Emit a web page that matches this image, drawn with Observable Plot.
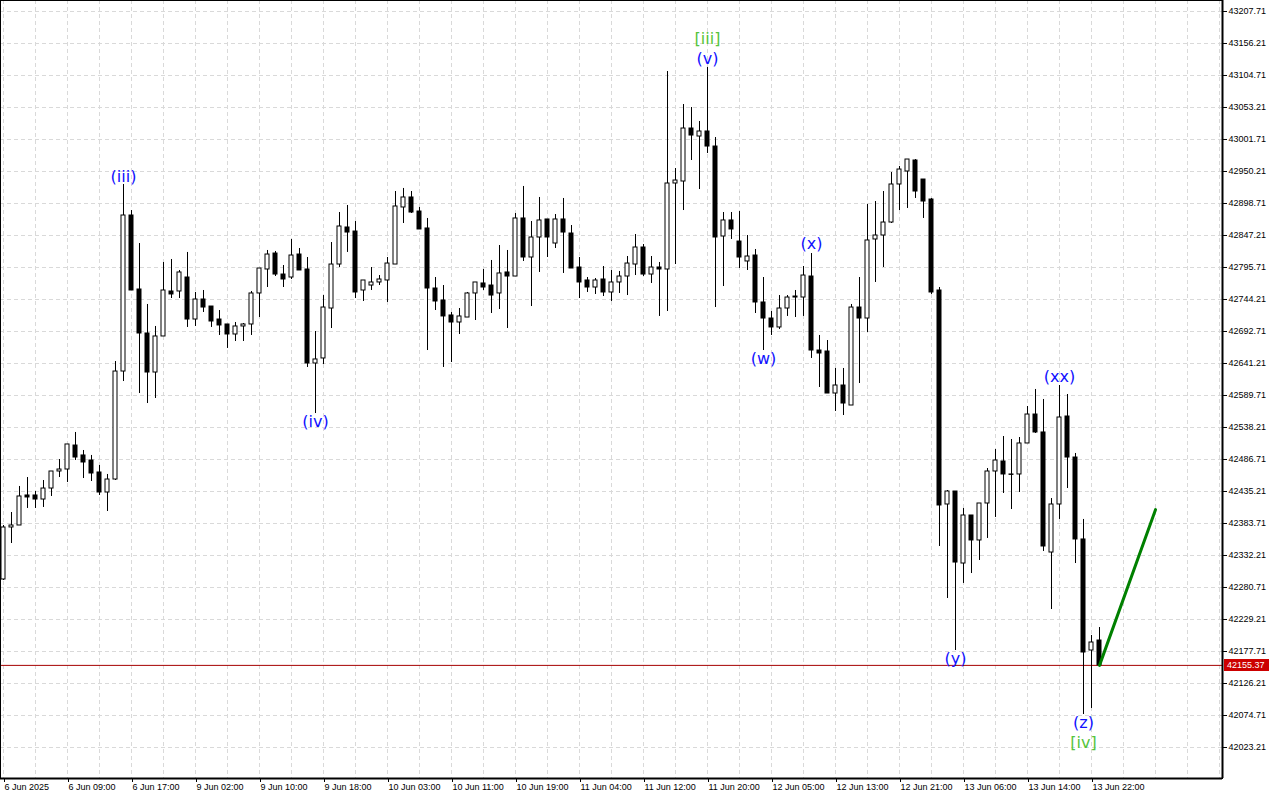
<!DOCTYPE html>
<html><head><meta charset="utf-8">
<script src="https://cdn.jsdelivr.net/npm/d3@7"></script>
<script src="https://cdn.jsdelivr.net/npm/@observablehq/plot@0.6"></script>
<style>body{margin:0;background:#fff;}</style>
</head><body><div id="chart"></div>
<script>
const open = [
42293.6,42377.3,42380.5,42428.8,42428.8,42422.3,42440.0,42467.4,42470.6,42509.2,
42493.2,42485.1,42465.8,42433.6,42454.5,42628.3,42879.4,42760.3,42689.5,42626.7,
42684.7,42757.1,42757.1,42779.6,42712.0,42744.2,42732.9,42712.0,42704.0,42687.9,
42700.8,42704.0,42753.9,42792.5,42818.2,42784.4,42779.6,42816.6,42792.5,42641.2,
42649.3,42729.7,42800.5,42860.1,42853.6,42758.7,42766.7,42771.6,42774.8,42800.5,
42892.3,42908.4,42885.8,42858.5,42761.9,42742.6,42718.5,42707.2,42715.2,42753.9,
42770.0,42766.7,42753.9,42787.7,42781.2,42874.6,42811.8,42844.0,42873.0,42834.3,
42873.0,42850.4,42795.7,42774.8,42763.5,42776.4,42755.5,42771.6,42781.2,42800.5,
42827.9,42784.4,42795.7,42792.5,42930.9,42934.1,43019.4,43006.5,43014.6,42990.4,
42845.6,42871.4,42837.5,42805.4,42815.0,42739.4,42713.6,42699.2,42729.7,42749.0,
42747.4,42781.2,42662.1,42660.5,42592.9,42605.8,42573.6,42731.3,42713.6,42840.8,
42847.2,42868.1,42929.3,42950.2,42967.9,42937.3,42905.1,42758.7,42414.3,42435.2,
42319.3,42396.6,42356.4,42415.9,42467.4,42483.5,42462.6,42462.6,42512.5,42559.1,
42530.2,42337.0,42414.3,42555.9,42489.9,42358.0,42179.3,42195.4
];
const high = [
42380.5,42401.4,42443.3,42457.7,42435.2,42452.9,42467.4,42486.7,42510.9,42530.2,
42501.2,42493.2,42477.1,42462.6,42644.4,42929.3,42887.4,42834.3,42736.2,42700.8,
42803.8,42808.6,42790.9,42819.9,42755.5,42758.7,42732.9,42726.5,42704.0,42707.2,
42705.6,42757.1,42794.1,42823.1,42821.5,42798.9,42840.8,42826.3,42811.8,42692.7,
42750.6,42835.9,42884.2,42895.5,42869.7,42774.8,42795.7,42782.8,42811.8,42918.0,
42922.9,42918.0,42892.3,42874.6,42779.6,42766.7,42723.3,42729.7,42755.5,42771.6,
42792.5,42807.0,42831.1,42823.1,42882.6,42926.1,42869.7,42908.4,42873.0,42881.0,
42906.8,42863.3,42811.8,42779.6,42778.0,42797.3,42790.9,42789.3,42813.4,42848.8,
42832.7,42813.4,42803.8,43111.1,42955.0,43058.0,43053.2,43030.7,43117.6,43004.9,
42884.2,42884.2,42885.8,42847.2,42824.7,42779.6,42724.9,42750.6,42750.6,42758.7,
42797.3,42818.2,42686.3,42678.2,42633.2,42633.2,42736.2,42779.6,42897.1,42901.9,
42918.0,42948.6,42958.3,42969.5,42969.5,42937.3,42906.8,42763.5,42436.8,42435.2,
42407.9,42396.6,42415.9,42472.2,42502.8,42523.7,42518.9,42522.1,42572.0,42599.4,
42583.3,42423.9,42605.8,42591.3,42496.4,42390.2,42203.5,42216.3
];
const low = [
42292.0,42351.5,42380.5,42407.9,42407.9,42409.5,42427.2,42457.7,42449.7,42485.1,
42456.1,42451.3,42428.8,42403.0,42452.9,42612.2,42758.7,42592.9,42576.8,42584.9,
42684.7,42745.8,42745.8,42699.2,42700.8,42723.3,42699.2,42686.3,42665.4,42676.6,
42676.6,42686.3,42715.2,42763.5,42781.2,42763.5,42776.4,42790.9,42634.8,42560.7,
42639.6,42697.5,42795.7,42819.9,42745.8,42741.0,42758.7,42766.7,42739.4,42800.5,
42866.5,42882.6,42856.9,42662.1,42726.5,42634.8,42642.8,42687.9,42715.2,42710.4,
42758.7,42721.7,42728.1,42697.5,42781.2,42805.4,42732.9,42787.7,42811.8,42826.3,
42786.1,42794.1,42745.8,42755.5,42752.3,42749.0,42741.0,42753.9,42750.6,42782.8,
42781.2,42770.0,42716.9,42724.9,42800.5,42887.4,42967.9,42921.2,42979.2,42731.3,
42765.1,42840.8,42794.1,42790.9,42721.7,42662.1,42686.3,42695.9,42716.9,42715.2,
42716.9,42649.3,42602.6,42592.9,42564.0,42557.5,42573.6,42609.0,42691.1,42771.6,
42795.7,42866.5,42887.4,42890.7,42906.8,42874.6,42752.3,42346.7,42263.0,42179.3,
42287.2,42303.2,42324.2,42359.6,42393.4,42432.0,42406.2,42433.6,42512.5,42528.6,
42338.7,42245.3,42390.2,42440.0,42319.3,42076.3,42086.0,42155.37
];
const close = [
42377.3,42380.5,42427.2,42425.6,42422.3,42440.0,42467.4,42470.6,42510.9,42489.9,
42481.9,42464.2,42433.6,42454.5,42628.3,42879.4,42758.7,42689.5,42626.7,42684.7,
42758.7,42752.3,42787.7,42712.0,42744.2,42731.3,42708.8,42702.4,42687.9,42700.8,
42704.0,42753.9,42794.1,42816.6,42784.4,42776.4,42815.0,42790.9,42641.2,42647.7,
42731.3,42800.5,42861.7,42852.0,42755.5,42774.8,42771.6,42776.4,42802.1,42893.9,
42908.4,42884.2,42856.9,42761.9,42741.0,42716.9,42707.2,42716.9,42753.9,42771.6,
42763.5,42750.6,42786.1,42781.2,42874.6,42811.8,42844.0,42871.4,42844.0,42873.0,
42852.0,42794.1,42771.6,42763.5,42774.8,42755.5,42771.6,42781.2,42802.1,42827.9,
42784.4,42795.7,42792.5,42930.9,42935.7,43019.4,43008.1,43014.6,42990.4,42844.0,
42871.4,42856.9,42811.8,42813.4,42739.4,42713.6,42699.2,42729.7,42747.4,42747.4,
42782.8,42662.1,42657.3,42592.9,42605.8,42576.8,42731.3,42713.6,42839.2,42847.2,
42868.1,42929.3,42953.4,42969.5,42918.0,42901.9,42755.5,42412.7,42435.2,42320.9,
42396.6,42356.4,42415.9,42467.4,42485.1,42462.6,42462.0,42512.5,42559.1,42530.2,
42346.7,42414.3,42554.3,42489.9,42358.0,42176.1,42192.2,42155.37
];

const xTickIndex = [0,8,16,24,32,40,48,56,64,72,80,88,96,104,112,120,128,136];
const xTickLabels = ["6 Jun 2025","6 Jun 09:00","6 Jun 17:00","9 Jun 02:00","9 Jun 10:00","9 Jun 18:00","10 Jun 03:00","10 Jun 11:00","10 Jun 19:00","11 Jun 04:00","11 Jun 12:00","11 Jun 20:00","12 Jun 05:00","12 Jun 13:00","12 Jun 21:00","13 Jun 06:00","13 Jun 14:00","13 Jun 22:00"];
const yTicks = [42023.21,42074.71,42126.21,42177.71,42229.21,42280.71,42332.21,42383.71,42435.21,42486.71,42538.21,42589.71,42641.21,42692.71,42744.21,42795.71,42847.21,42898.71,42950.21,43001.71,43053.21,43104.71,43156.21,43207.71];
const lastPrice = 42155.37;
const projIndex = [137, 144];
const projPrice = [42155.37, 42406];
const waveText  = ["(iii)","(iv)","[iii]","(v)","(w)","(x)","(y)","(xx)","(z)","[iv]"];
const waveIndex = [15, 39, 88, 88, 95, 101, 119, 132, 135, 135];
const wavePrice = [42942, 42548, 43163, 43132, 42648, 42833, 42166, 42619, 42063, 42031];
const waveColor = ["#1010ff","#1010ff","#55c43c","#1010ff","#1010ff","#1010ff","#1010ff","#1010ff","#1010ff","#55c43c"];

const candles = open.map((o, i) => ({i, open:o, high:high[i], low:low[i], close:close[i]}));
const proj = projIndex.map((x, j) => ({x, y: projPrice[j]}));
const waves = waveText.map((t, j) => ({t, x: waveIndex[j], y: wavePrice[j], c: waveColor[j]}));
const labelMap = new Map(xTickIndex.map((k, j) => [k, xTickLabels[j]]));
const gridX = d3.range(0, 153, 4);
const xDomain = [-0.375, 152.375];
const yDomain = [41973.32, 43225.41];
const gridColor = "#d9d9d9";

const plot = Plot.plot({
  width: 1280, height: 800,
  marginLeft: 0, marginRight: 58, marginTop: 0, marginBottom: 22,
  x: {type: "linear", domain: xDomain},
  y: {domain: yDomain},
  style: {fontFamily: "'Liberation Sans', Arial, sans-serif", fontSize: "9px", background: "#fff", color: "#000", overflow: "visible"},
  marks: [
    Plot.ruleY(yTicks, {stroke: gridColor, strokeDasharray: "4,3"}),
    Plot.ruleX(gridX, {stroke: gridColor, strokeDasharray: "4,3"}),
    Plot.ruleY([lastPrice], {stroke: "#a50000"}),
    Plot.ruleX(candles, {x: "i", y1: "low", y2: "high", stroke: "#000"}),
    Plot.rect(candles, {x1: d => d.i - 0.25, x2: d => d.i + 0.25, y1: "open", y2: "close",
      fill: d => d.close >= d.open ? "#fff" : "#000", stroke: "#000"}),
    Plot.line(proj, {x: "x", y: "y", stroke: "#008000", strokeWidth: 3}),
    Plot.text(waves, {x: "x", y: "y", text: "t", fill: "c", fontSize: 16, fontFamily: "'DejaVu Sans', sans-serif"}),
    Plot.axisY({anchor: "right", ticks: yTicks, tickFormat: d => d.toFixed(2), tickSize: 4, tickPadding: 2}),
    Plot.axisX({ticks: xTickIndex, tickFormat: d => labelMap.get(d), textAnchor: "start", tickSize: 4, tickPadding: 1, dx: 1}),
    Plot.frame({stroke: "#000"}),
    Plot.ruleX([xDomain[1]], {stroke: "#000", strokeWidth: 2}),
    Plot.ruleY([yDomain[0]], {stroke: "#000", strokeWidth: 2})
  ]
});
document.getElementById("chart").appendChild(plot);

// last price tag on the right axis
const yp = plot.scale("y").apply(lastPrice);
const xr = plot.scale("x").apply(xDomain[1]);
const svg = d3.select(plot);
const tag = svg.append("g");
tag.append("rect").attr("x", xr + 2).attr("y", Math.round(yp) - 6).attr("width", 45).attr("height", 12).attr("fill", "#cc0000");
tag.append("text").attr("x", xr + 5).attr("y", yp).attr("dy", "0.35em").attr("text-anchor", "start")
  .attr("fill", "#fff").attr("font-size", 9).attr("font-family", "'Liberation Sans', Arial, sans-serif").text(lastPrice.toFixed(2));
</script>
</body></html>
